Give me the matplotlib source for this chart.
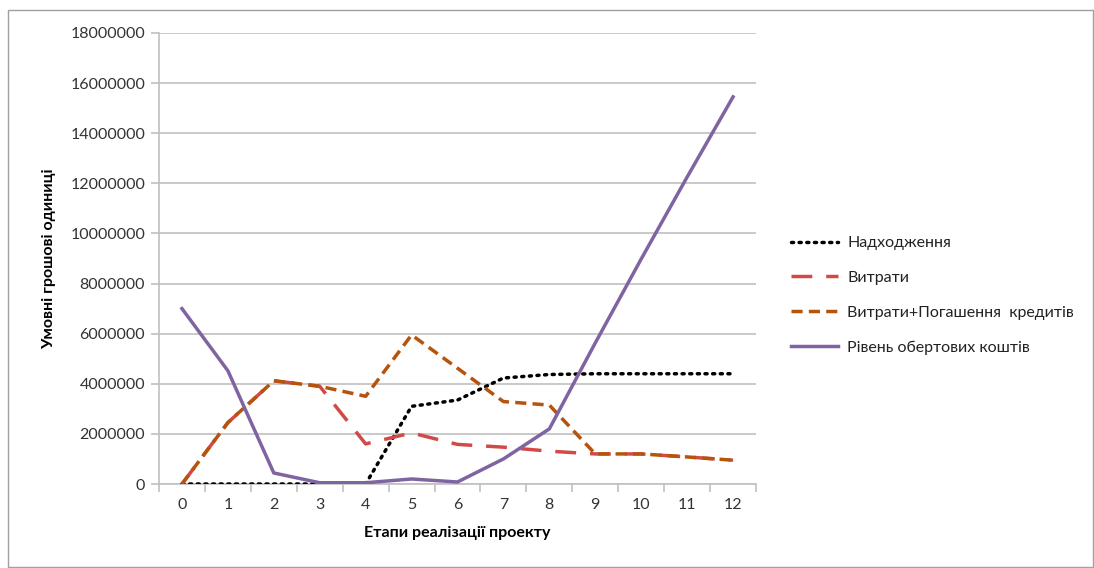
import matplotlib
matplotlib.use("Agg")
import matplotlib.pyplot as plt
from matplotlib.patches import Rectangle

plt.rcParams['font.family'] = ['Lato', 'DejaVu Sans']

# Дані графіка
stages = list(range(13))
income = [0, 0, 0, 0, 0, 3100000, 3350000, 4230000, 4370000, 4400000, 4400000, 4400000, 4400000]
costs = [0, 2450000, 4120000, 3900000, 1600000, 2040000, 1580000, 1470000, 1310000, 1200000, 1200000, 1080000, 950000]
costs_credit = [0, 2450000, 4120000, 3900000, 3500000, 5950000, 4620000, 3290000, 3150000, 1200000, 1200000, 1080000, 950000]
working_capital = [7000000, 4520000, 440000, 50000, 50000, 200000, 80000, 1000000, 2200000, 5630000, 8980000, 12250000, 15450000]
y_ticks = list(range(0, 18000001, 2000000))

labels = ['Надходження', 'Витрати', 'Витрати+Погашення  кредитів', 'Рівень обертових коштів']

fig = plt.figure(figsize=(10.94, 5.68), dpi=100)
ax = fig.add_axes([159 / 1094, 1 - 484 / 568, (756 - 159) / 1094, (484 - 33) / 568])

grid_c = '#c0c0c0'
ax.plot(stages, income, color='black', lw=2.5, linestyle=(0, (0.6, 1.6)),
        dash_capstyle='round', label=labels[0], zorder=3)
ax.plot(stages, costs, color='#d24a48', lw=2.5, linestyle=(0, (6, 4)), label=labels[1], zorder=3)
ax.plot(stages, costs_credit, color='#b5540c', lw=2.5, linestyle=(0, (3.2, 1.8)), label=labels[2], zorder=4)
ax.plot(stages, working_capital, color='#8064a2', lw=2.5, label=labels[3], zorder=5)

ax.set_xlim(-0.5, 12.5)
ax.set_ylim(0, 18000000)
ax.set_yticks(y_ticks)
ax.set_yticklabels([str(v) for v in y_ticks])
ax.set_xticks(stages)
ax.set_xticks([s - 0.5 for s in stages] + [12.5], minor=True)
ax.tick_params(axis='x', which='major', length=0, labelsize=11.5, pad=10, colors='#333333')
ax.tick_params(axis='x', which='minor', length=6, width=1.2, color=grid_c, direction='out')
ax.tick_params(axis='y', length=6, width=1.2, color=grid_c, labelsize=11.5, pad=4, labelcolor='#333333')
ax.grid(axis='y', color=grid_c, lw=1.2)
ax.set_axisbelow(True)
for side in ['top', 'right']:
    ax.spines[side].set_visible(False)
for side in ['left', 'bottom']:
    ax.spines[side].set_color(grid_c)
    ax.spines[side].set_linewidth(1.2)

ax.set_xlabel('Етапи реалізації проекту', fontsize=11.5, fontweight='bold', labelpad=10)
ax.set_ylabel('Умовні грошові одиниці', fontsize=11.5, fontweight='bold', labelpad=10)

leg = ax.legend(loc='center left', bbox_to_anchor=(1.035, 0.418), frameon=False,
                fontsize=11.5, handlelength=2.9, labelspacing=1.3, handletextpad=0.6)
for t in leg.get_texts():
    t.set_color('#222222')

# рамка навколо діаграми
fig.patches.append(Rectangle((8 / 1094, 0.002), 1 - 8 / 1094 - 0.001, 1 - 10 / 568 - 0.002,
                             transform=fig.transFigure, fill=False, edgecolor='#a0a0a0', lw=1))

fig.savefig('out.png', dpi=100)
